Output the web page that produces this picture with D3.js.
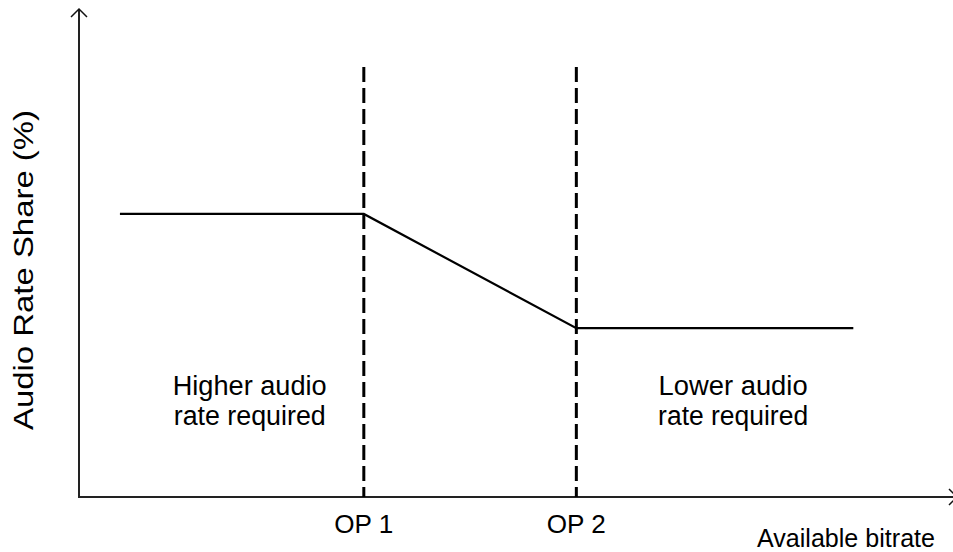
<!DOCTYPE html>
<html>
<head>
<meta charset="utf-8">
<script src="https://cdn.jsdelivr.net/npm/d3@7"></script>
<style>
  body { margin: 0; background: #fff; }
  text { font-family: "Liberation Sans", Arial, sans-serif; fill: #000; }
</style>
</head>
<body>
<div id="chart"></div>
<script>
//chart values (abstract units, 0-100 on both axes)
var shareX = [4.7, 32.7, 57.1, 88.9];
var shareY = [58, 58, 34.6, 34.6];
var opNames = ["OP 1", "OP 2"];
var opX = [32.7, 57.1];
var opTop = 88.1;
var regionText = [["Higher audio", "rate required"], ["Lower audio", "rate required"]];
var regionX = [19.6, 75.1];

var svgWidth = 953;
var svgHeight = 552;

var svg = d3.select('#chart')
  .append('svg')
  .attr('width', svgWidth)
  .attr('height', svgHeight);

var xScale = d3.scaleLinear().domain([0, 100]).range([79, 950]);
var yScale = d3.scaleLinear().domain([0, 100]).range([497, 9]);

//axes with open arrow heads
svg.append("line")
  .attr("x1", xScale(0)).attr("y1", yScale(0))
  .attr("x2", xScale(0)).attr("y2", yScale(100))
  .attr("stroke", "#222").attr("stroke-width", 2);
svg.append("line")
  .attr("x1", xScale(0) - 1).attr("y1", yScale(0))
  .attr("x2", xScale(100) + 4).attr("y2", yScale(0))
  .attr("stroke", "#222").attr("stroke-width", 2);

svg.append("path")
  .attr("d", `M${xScale(0) - 8},${yScale(100) + 8} L${xScale(0)},${yScale(100)} L${xScale(0) + 8},${yScale(100) + 8}`)
  .attr("fill", "none").attr("stroke", "#111").attr("stroke-width", 1.5);
svg.append("path")
  .attr("d", `M${xScale(100) - 1},${yScale(0) - 8} L${xScale(100) + 7},${yScale(0)} L${xScale(100) - 1},${yScale(0) + 8}`)
  .attr("fill", "none").attr("stroke", "#111").attr("stroke-width", 1.5);

//dashed operating point lines
svg.selectAll(".op")
  .data(opX)
  .enter()
  .append("line")
  .attr("class", "op")
  .attr("x1", d => xScale(d)).attr("x2", d => xScale(d))
  .attr("y1", yScale(opTop)).attr("y2", yScale(0))
  .attr("stroke", "#000").attr("stroke-width", 3)
  .attr("stroke-dasharray", "15,6");

//audio share curve
var pts = shareX.map((x, i) => [x, shareY[i]]);
var line = d3.line().x(d => xScale(d[0])).y(d => yScale(d[1]));
svg.append("path")
  .datum(pts)
  .attr("d", line)
  .attr("fill", "none")
  .attr("stroke", "#000")
  .attr("stroke-width", 2.2);

//op labels
svg.selectAll(".opLabel")
  .data(opNames)
  .enter()
  .append("text")
  .attr("class", "opLabel")
  .attr("x", (d, i) => xScale(opX[i]))
  .attr("y", 533)
  .attr("text-anchor", "middle")
  .attr("font-size", 25)
  .attr("textLength", 59)
  .attr("lengthAdjust", "spacingAndGlyphs")
  .text(d => d);

//region texts
var lineWidths = [[154, 152], [149, 150]];
regionText.forEach(function (lines, i) {
  lines.forEach(function (t, j) {
    svg.append("text")
      .attr("x", xScale(regionX[i]))
      .attr("y", 395 + j * 30)
      .attr("text-anchor", "middle")
      .attr("font-size", 27)
      .attr("textLength", lineWidths[i][j])
      .attr("lengthAdjust", "spacingAndGlyphs")
      .text(t);
  });
});

//axis titles
svg.append("text")
  .attr("x", 935).attr("y", 547)
  .attr("text-anchor", "end")
  .attr("font-size", 25)
  .attr("textLength", 178)
  .attr("lengthAdjust", "spacingAndGlyphs")
  .text("Available bitrate");

svg.append("text")
  .attr("text-anchor", "middle")
  .attr("font-size", 28)
  .attr("textLength", 320)
  .attr("lengthAdjust", "spacingAndGlyphs")
  .attr("transform", "translate(33, 270) rotate(-90)")
  .text("Audio Rate Share (%)");
</script>
</body>
</html>
